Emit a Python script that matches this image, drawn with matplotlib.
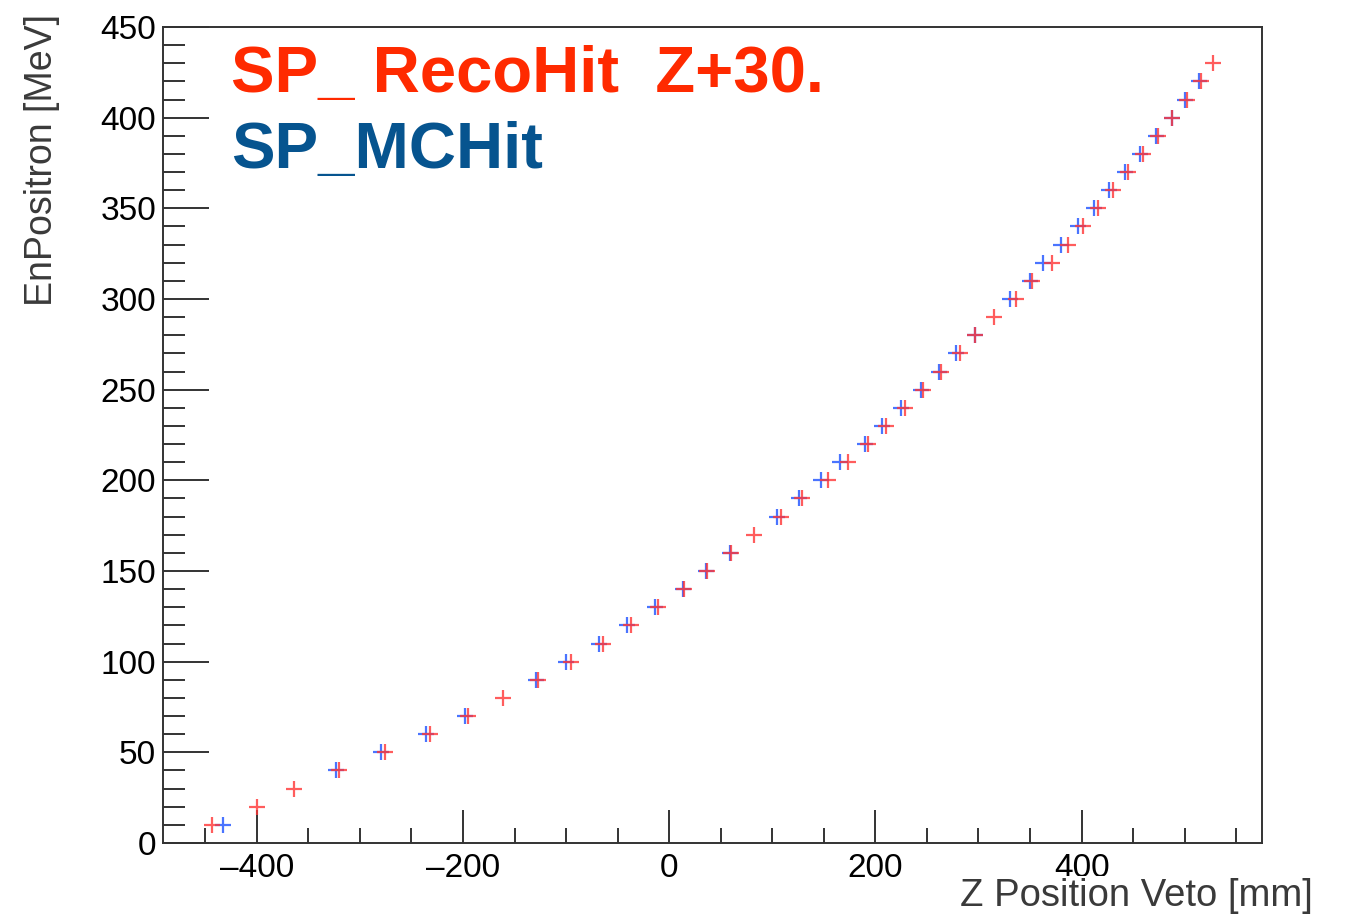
import matplotlib
matplotlib.use("Agg")
import matplotlib.pyplot as plt
from matplotlib.ticker import MultipleLocator

plt.rcParams['font.family'] = ['Liberation Sans', 'DejaVu Sans']

# Positron energy at each scoring-plane hit [MeV]
energy_reco = [10, 20, 30, 40, 50, 60, 70, 80, 90, 100, 110, 120, 130, 140,
               150, 160, 170, 180, 190, 200, 210, 220, 230, 240, 250, 260,
               270, 280, 290, 300, 310, 320, 330, 340, 350, 360, 370, 380,
               390, 400, 410, 420, 430]
# Reconstructed Z position (shifted by +30 mm) [mm]
z_reco = [-443, -400, -364, -320, -276, -232, -195, -161, -127, -95, -64, -37,
          -11, 14, 37, 60, 82, 108, 129, 154, 173, 193, 210, 229, 246, 264,
          282, 297, 315, 336, 352, 371, 387, 401, 416, 430, 445, 460, 474,
          488, 502, 516, 527]

energy_mc = [10, 40, 50, 60, 70, 90, 100, 110, 120, 130, 140, 150, 160, 180,
             190, 200, 210, 220, 230, 240, 250, 260, 270, 280, 300, 310, 320,
             330, 340, 350, 360, 370, 380, 390, 400, 410, 420]
# Monte Carlo truth Z position [mm]
z_mc = [-433, -323, -280, -236, -198, -129, -100, -68, -41, -14, 13, 36, 59,
        105, 126, 147, 166, 190, 206, 225, 244, 262, 278, 297, 331, 350, 363,
        380, 397, 412, 427, 442, 457, 472, 488, 500, 514]

fig = plt.figure(figsize=(13.45, 9.19), dpi=100)
ax = fig.add_axes([163 / 1345, 1 - 843 / 919, (1262 - 163) / 1345, (843 - 27) / 919])

ax.plot(z_mc, energy_mc, linestyle='none', marker='+', markersize=11,
        markeredgewidth=1.6, color='#2a5cff', alpha=0.85)
ax.plot(z_reco, energy_reco, linestyle='none', marker='+', markersize=11,
        markeredgewidth=1.6, color='#ff3535', alpha=0.8)

ax.set_xlim(-491, 575)
ax.set_ylim(0, 450)

ax.xaxis.set_major_locator(MultipleLocator(200))
ax.xaxis.set_minor_locator(MultipleLocator(50))
ax.yaxis.set_major_locator(MultipleLocator(50))
ax.yaxis.set_minor_locator(MultipleLocator(10))

axis_col = '#333333'
for s in ax.spines.values():
    s.set_color(axis_col)
    s.set_linewidth(1.4)

ax.tick_params(axis='x', which='major', direction='in', length=24, width=1.4,
               color=axis_col, labelsize=24, pad=7, top=False)
ax.tick_params(axis='x', which='minor', direction='in', length=11, width=1.4,
               color=axis_col, top=False)
ax.tick_params(axis='y', which='major', direction='in', length=33, width=1.4,
               color=axis_col, labelsize=24, pad=5, right=False)
ax.tick_params(axis='y', which='minor', direction='in', length=16, width=1.4,
               color=axis_col, right=False)

def fmt(v, _):
    v = int(round(v))
    return ('\u2013%d' % -v) if v < 0 else '%d' % v
ax.xaxis.set_major_formatter(plt.FuncFormatter(fmt))

fig.text(42 / 1345, 1 - 160 / 919, 'EnPositron [MeV]', rotation=90,
         ha='center', va='center', fontsize=27, color='#3a3a3a')
# x title sits on an opaque white box that covers the edge of the tick label
fig.text(1313 / 1345, 1 - 896 / 919, 'Z Position Veto [mm]', ha='right',
         va='center', fontsize=27.5, color='#3a3a3a',
         bbox=dict(facecolor='white', edgecolor='none', pad=1.5))

fig.text(231 / 1345, 1 - 92 / 919, 'SP_ RecoHit  Z+30.', ha='left',
         va='baseline', fontsize=47, fontweight='bold', color='#ff2a00')
fig.text(231 / 1345, 1 - 168 / 919, 'SP_MCHit', ha='left',
         va='baseline', fontsize=47, fontweight='bold', color='#06548f')

fig.savefig('out.png', dpi=100)
